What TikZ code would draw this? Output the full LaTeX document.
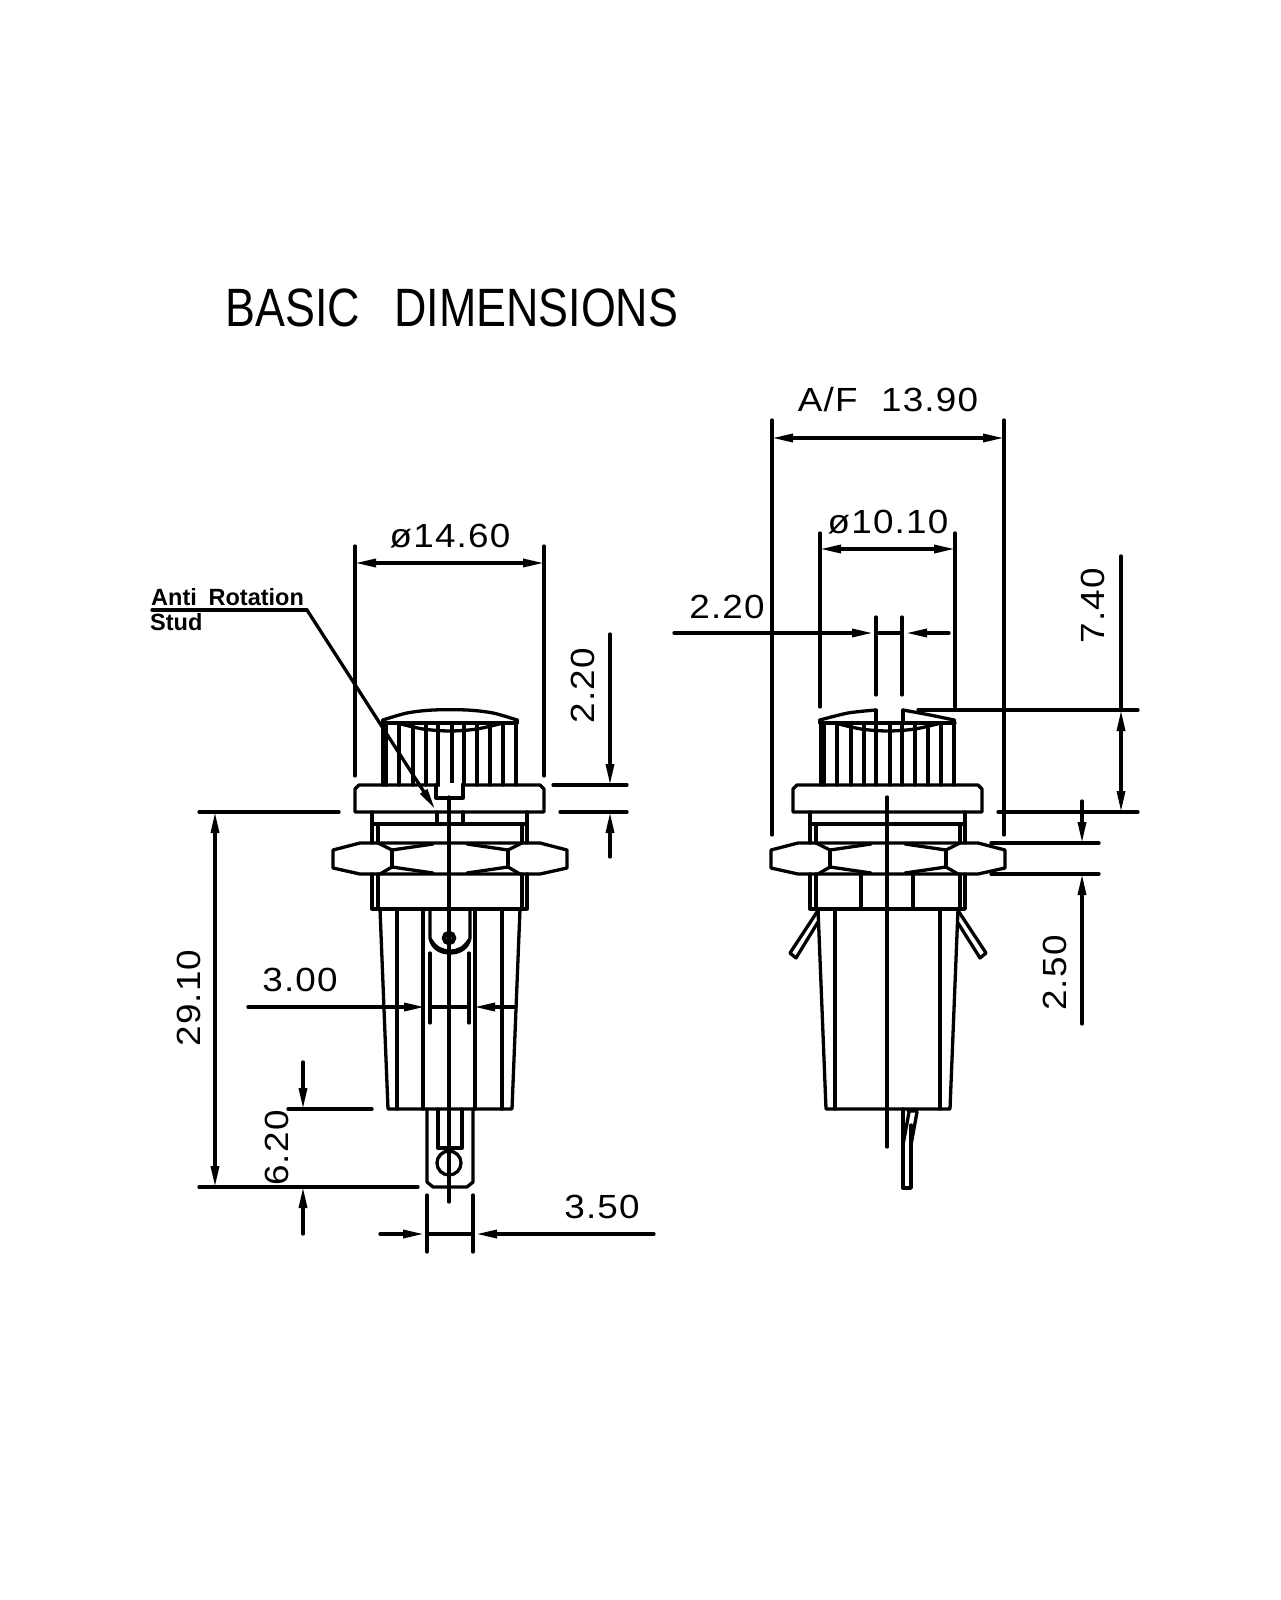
\documentclass[tikz,border=0pt]{standalone}
\usepackage{fontspec}
\usetikzlibrary{arrows.meta}
\newfontfamily\cad[FakeStretch=1.1,LetterSpace=3.5]{Liberation Sans}
\newfontfamily\cadt[FakeStretch=0.83]{Liberation Sans}
\newfontfamily\cadb[FakeStretch=1.0]{Liberation Sans Bold}
\tikzset{
  ln/.style={line width=3.3pt,line cap=round,line join=round},
  dimarrow/.style={-{Triangle[length=21pt,width=8pt]}},
  dimtext/.style={inner sep=0pt,font=\cad\fontsize{33.5}{33.5}\selectfont},
  title text/.style={inner sep=0pt,font=\cadt\fontsize{54}{54}\selectfont},
  note text/.style={inner sep=0pt,anchor=west,font=\cadb\fontsize{23.5}{24}\selectfont},
}
\newcommand{\fuseholder}{%
  % knob ribs and top
  \foreach \rx in {383,386,399,413,426,438,452,464,477,490,503,516}{
    \draw[ln] (\rx,723) -- (\rx,785);}
  \draw[ln] (383,723) -- (517,723);
  \draw[ln] plot[smooth] coordinates {(397,723) (423,729) (450,731) (477,729) (503,723)};
  % flange
  \draw[ln] (359,785) -- (540,785) -- (544,789) -- (544,812) -- (355,812) -- (355,789) -- cycle;
  \draw[ln] (372,812) -- (372,843) (527,812) -- (527,843) (378,824) -- (378,843) (522,824) -- (522,843);
  \draw[ln] (372,824) -- (527,824);
  % nut
  \draw[ln] (333,850) -- (360,843) -- (540,843) -- (567,850) -- (567,868) -- (540,874) -- (360,874) -- (333,868) -- cycle;
  \draw[ln] (392,850) -- (392,867) (508,850) -- (508,867);
  \draw[ln] (378,843) -- (392,850) -- (433,844) (467,844) -- (508,850) -- (522,843);
  \draw[ln] (380,874) -- (392,867) -- (433,873) (467,873) -- (508,867) -- (520,874);
  % lower hex part
  \draw[ln] (372,874) -- (372,909) -- (527,909) -- (527,874);
  \draw[ln] (378,874) -- (378,909) (522,874) -- (522,909);
  % tapered body
  \draw[ln] (380,909) -- (388,1109) -- (512,1109) -- (520,909);
  \draw[ln] (397,909) -- (397,1109) (502,909) -- (502,1109);
}
\begin{document}
\begin{tikzpicture}[x=1pt,y=-1pt]
\useasboundingbox (0,0) rectangle (1280,1600);
\fill[white] (0,0) rectangle (1280,1600);

\node[title text] (title) at (452,307.5) {BASIC\hspace{0.63em}DIMENSIONS};

% ===== left view =====
\fuseholder
\draw[ln] (383,720) -- (383,723) (517,720) -- (517,723);
\draw[ln] plot[smooth] coordinates {(383,720) (407,713) (433,710) (467,710) (493,713) (517,720)};
\draw[ln] (386,723) -- (386,785);
% stud
\fill[white] (440,783) rectangle (461,787);
\draw[ln] (436,785) -- (436,798) -- (463,798) -- (463,785);
\draw[ln] (437,812) -- (437,824) (463,812) -- (463,824);
% center line
\draw[ln] (449,797) -- (449,1202);
% inner terminal
\draw[ln] (423,909) -- (423,1109) (475,909) -- (475,1109);
\draw[ln] (430,909) -- (430,938) .. controls (432,948) and (440,953) .. (450,953) .. controls (460,953) and (468,948) .. (470,938) -- (470,909);
\draw[ln] (431,940) .. controls (436,948) and (442,951) .. (450,951) .. controls (458,951) and (464,948) .. (469,940);
\draw[line width=4.5pt] (449,938) circle (5pt);
% blade
\draw[ln] (427,1109) -- (427,1182) -- (433,1187) -- (467,1187) -- (473,1182) -- (473,1109);
\draw[ln] (438,1109) -- (438,1148) -- (462,1148) -- (462,1109);
\draw[ln] (449,1163) circle (12pt);

% dim 14.60
\draw[ln] (355,546) -- (355,776) (544,546) -- (544,776);
\draw[ln,dimarrow] (450,563) -- (355,563);
\draw[ln,dimarrow] (450,563) -- (544,563);
\node[dimtext] (d1460) at (450,536) {ø14.60};
% dim 2.20 (left)
\draw[ln] (553,785) -- (627,785) (560,812) -- (627,812);
\draw[ln,dimarrow] (610,634) -- (610,785);
\draw[ln,dimarrow] (610,857) -- (610,812);
\node[dimtext,rotate=90] (d220a) at (583,686) {2.20};
% dim 29.10
\draw[ln] (199,812) -- (339,812) (199,1187) -- (418,1187);
\draw[ln,dimarrow] (215,1000) -- (215,812);
\draw[ln,dimarrow] (215,1000) -- (215,1187);
\node[dimtext,rotate=90] (d2910) at (189,998) {29.10};
% dim 6.20
\draw[ln] (288,1109) -- (372,1109);
\draw[ln,dimarrow] (303,1062) -- (303,1109);
\draw[ln,dimarrow] (303,1234) -- (303,1187);
\node[dimtext,rotate=90] (d620) at (277,1148) {6.20};
% dim 3.00
\draw[ln] (430,953) -- (430,1023) (469,953) -- (469,1023);
\draw[ln,dimarrow] (248,1007) -- (425,1007);
\draw[ln,dimarrow] (516,1007) -- (474,1007);
\draw[ln] (430,1007) -- (469,1007);
\node[dimtext] (d300) at (300,980) {3.00};
% dim 3.50
\draw[ln] (427,1195) -- (427,1252) (473,1195) -- (473,1252);
\draw[ln,dimarrow] (380,1234) -- (424,1234);
\draw[ln,dimarrow] (654,1234) -- (476,1234);
\draw[ln] (427,1234) -- (473,1234);
\node[dimtext] (d350) at (602,1207) {3.50};
% leader
\node[note text] (anti) at (151,597) {Anti\hspace{0.5em}Rotation};
\node[note text] (stud) at (150,622) {Stud};
\draw[ln] (152,610) -- (307,610);
\draw[ln,dimarrow] (307,610) -- (435,809);

% ===== right view =====
\begin{scope}[shift={(438,0)}]
  \fuseholder
  \draw[ln] (382,720) -- (382,723) (516,720) -- (516,723);
\end{scope}
\draw[ln] plot[smooth] coordinates {(820,720) (848,713) (876,710)};
\draw[ln] plot[smooth] coordinates {(903,710) (930,715) (954,720)};
\draw[ln] (876,710) -- (876,723) (903,710) -- (903,723);
\draw[ln] (861,874) -- (861,909) (913,874) -- (913,909);
\draw[ln] (887,797) -- (887,1147);
% tabs
\draw[ln] (817,912) -- (790,953) -- (796,958) -- (818,922);
\draw[ln] (959,912) -- (986,953) -- (980,958) -- (958,923);
% side blade
\draw[ln] (903,1109) -- (903,1188) -- (911,1188) -- (911,1125);
\draw[ln] (909,1112) -- (903,1145) (917,1112) -- (911,1145) (908,1111) -- (917,1111);

% dim A/F
\draw[ln] (772,420) -- (772,835) (1004,420) -- (1004,835);
\draw[ln,dimarrow] (888,438) -- (772,438);
\draw[ln,dimarrow] (888,438) -- (1004,438);
\node[dimtext] (daf) at (888,400) {A/F\hspace{0.7em}13.90};
% dim 10.10
\draw[ln] (820,533) -- (820,707) (955,533) -- (955,707);
\draw[ln,dimarrow] (888,549) -- (820,549);
\draw[ln,dimarrow] (888,549) -- (955,549);
\node[dimtext] (d1010) at (888,522) {ø10.10};
% dim 2.20 right
\draw[ln] (876,617) -- (876,695) (902,617) -- (902,695);
\draw[ln,dimarrow] (674,633) -- (873,633);
\draw[ln,dimarrow] (949,633) -- (906,633);
\draw[ln] (876,633) -- (902,633);
\node[dimtext] (d220b) at (727,607) {2.20};
% dim 7.40
\draw[ln] (918,710) -- (1138,710) (998,812) -- (1138,812);
\draw[ln,dimarrow] (1121,760) -- (1121,710);
\draw[ln,dimarrow] (1121,760) -- (1121,812);
\draw[ln] (1121,556) -- (1121,710);
\node[dimtext,rotate=90] (d740) at (1093,606) {7.40};
% dim 2.50
\draw[ln] (991,843) -- (1099,843) (991,874) -- (1099,874);
\draw[ln,dimarrow] (1082,801) -- (1082,843);
\draw[ln,dimarrow] (1082,1024) -- (1082,874);
\node[dimtext,rotate=90] (d250) at (1055,973) {2.50};
\end{tikzpicture}
\end{document}
